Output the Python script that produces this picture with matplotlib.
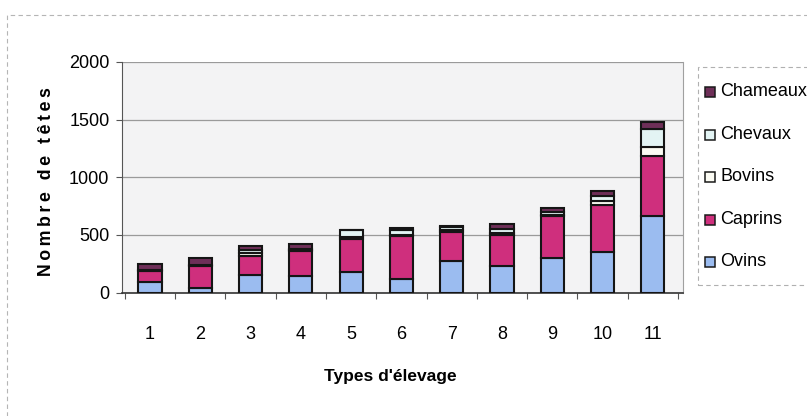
import matplotlib
matplotlib.use('Agg')
import matplotlib.pyplot as plt
import numpy as np
from matplotlib.patches import Rectangle

# Effectifs par type d'élevage
types = ['1', '2', '3', '4', '5', '6', '7', '8', '9', '10', '11']
ovins = [95, 40, 155, 147, 178, 117, 269, 234, 299, 351, 663]
caprins = [92, 190, 165, 217, 286, 373, 260, 269, 364, 412, 520]
bovins = [5, 5, 25, 5, 15, 10, 10, 10, 12, 32, 83]
chevaux = [5, 0, 25, 5, 63, 45, 30, 35, 20, 45, 156]
chameaux = [48, 67, 33, 47, 0, 12, 8, 46, 35, 43, 59]

series = [('Ovins', ovins, '#9bbcf0'),
          ('Caprins', caprins, '#cf2f7d'),
          ('Bovins', bovins, '#fbfbf3'),
          ('Chevaux', chevaux, '#e3f4f4'),
          ('Chameaux', chameaux, '#6e2f58')]

plt.rcParams['font.family'] = ['Liberation Sans', 'DejaVu Sans']

W, H = 807, 416
fig = plt.figure(figsize=(W / 100, H / 100), dpi=100)

# outer chart frame (dashed, faint)
fig.patches.append(Rectangle((7 / W, -0.05), 1.2, 1 - 15 / H + 0.05, transform=fig.transFigure,
                             fill=False, edgecolor='#b5b5b5', linewidth=0.8, linestyle=(0, (4, 3))))

ax = fig.add_axes([122 / W, 1 - 292.5 / H, (683 - 122) / W, (292.5 - 62) / H])
ax.set_facecolor('#f3f3f4')

x = np.arange(len(types))
bottom = np.zeros(len(types))
for name, vals, col in series:
    ax.bar(x, vals, width=0.46, bottom=bottom, color=col, edgecolor='#151515',
           linewidth=1.5, label=name, zorder=3)
    bottom += np.array(vals)

ax.set_ylim(0, 2000)
ax.set_xlim(-0.557, 10.6)
ax.set_yticks([0, 500, 1000, 1500, 2000])
ax.set_xticks(x)
ax.set_xticklabels(types)
ax.set_xticks(np.arange(-0.5, 11, 1), minor=True)
ax.grid(axis='y', color='#9a9a9a', linewidth=0.9, zorder=1)

ax.tick_params(axis='y', labelsize=13, length=4, width=0.8, color='#555555', pad=5)
ax.tick_params(axis='x', which='major', labelsize=13, length=0, pad=24)
ax.tick_params(axis='x', which='minor', length=4, width=0.8, color='#555555')

ax.spines['top'].set_visible(False)
ax.spines['right'].set_color('#a0a0a0')
ax.spines['right'].set_linewidth(0.8)
ax.spines['left'].set_color('#555555')
ax.spines['bottom'].set_color('#333333')
ax.spines['bottom'].set_linewidth(1.2)

fig.text(390 / W, 1 - 377 / H, "Types d'élevage", ha='center', va='center',
         fontsize=12.5, fontweight='bold')
# letter-spaced axis title
ytitle = '\u2009'.join('Nombre de têtes')
fig.text(47 / W, 1 - 182 / H, ytitle, ha='center', va='center',
         rotation=90, fontsize=12.8, fontweight='bold')

# legend box, listed top-down like the stack
fig.patches.append(Rectangle((698 / W, 1 - 285 / H), 0.2, (285 - 67) / H, transform=fig.transFigure,
                             fill=False, edgecolor='#b0b0b0', linewidth=0.8, linestyle=(0, (4, 3))))
leg_y = [92, 134.5, 177, 219.5, 262]
for (name, vals, col), yy in zip(series[::-1], leg_y):
    fig.patches.append(Rectangle((705 / W, 1 - (yy + 5) / H), 10 / W, 10 / H, transform=fig.transFigure,
                                 facecolor=col, edgecolor='#1a1a1a', linewidth=1.1))
    fig.text(720 / W, 1 - yy / H, name, ha='left', va='center', fontsize=13)

plt.savefig('out.png', dpi=100)
